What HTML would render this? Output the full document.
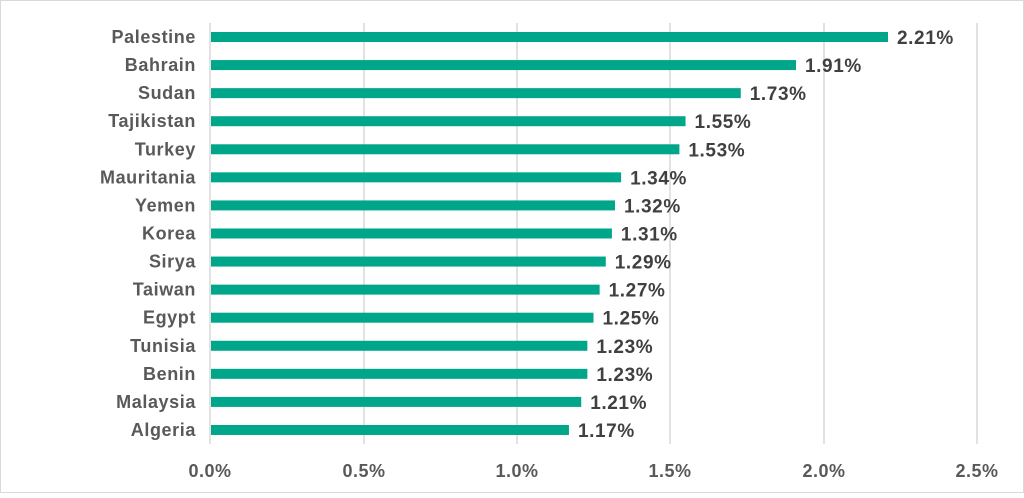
<!DOCTYPE html>
<html><head><style>
body{margin:0;background:#fff;}
</style></head><body>
<svg width="1024" height="493" xmlns="http://www.w3.org/2000/svg" font-family="Liberation Sans, sans-serif" font-weight="bold">
<rect x="0.5" y="0.5" width="1023" height="492" fill="#fff" stroke="#d9d9d9"/>
<g stroke="#d9d9d9" stroke-width="1.5">
<line x1="210" y1="23" x2="210" y2="444"/>
<line x1="364" y1="23" x2="364" y2="444"/>
<line x1="517" y1="23" x2="517" y2="444"/>
<line x1="670" y1="23" x2="670" y2="444"/>
<line x1="824" y1="23" x2="824" y2="444"/>
<line x1="977" y1="23" x2="977" y2="444"/>
</g>
<g font-size="18" fill="#595959" text-anchor="middle" letter-spacing="0.5">
<text x="210" y="477">0.0%</text><text x="364" y="477">0.5%</text><text x="517" y="477">1.0%</text><text x="670" y="477">1.5%</text><text x="824" y="477">2.0%</text><text x="977" y="477">2.5%</text>
</g>
<g id="bars"></g>
</svg>
<script>
var d=[["Palestine",2.21],["Bahrain",1.91],["Sudan",1.73],["Tajikistan",1.55],["Turkey",1.53],["Mauritania",1.34],["Yemen",1.32],["Korea",1.31],["Sirya",1.29],["Taiwan",1.27],["Egypt",1.25],["Tunisia",1.23],["Benin",1.23],["Malaysia",1.21],["Algeria",1.17]];
var g=document.getElementById('bars'),s='';
d.forEach(function(r,i){var y=37+i*28.07,w=r[1]*306.8;
s+='<rect x="211" y="'+(y-5)+'" width="'+(w-1)+'" height="10" fill="#00a68a"/>';
s+='<text x="196" y="'+(y+6)+'" font-size="18" letter-spacing="0.6" fill="#595959" text-anchor="end">'+r[0]+'</text>';
s+='<text x="'+(210+w+9)+'" y="'+(y+7)+'" font-size="19" letter-spacing="0.6" fill="#404040">'+r[1].toFixed(2)+'%</text>';});
g.innerHTML=s;
</script>
</body></html>
